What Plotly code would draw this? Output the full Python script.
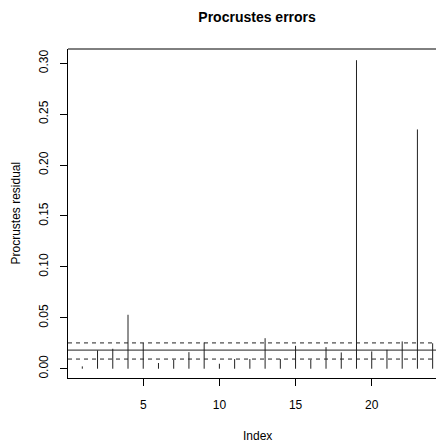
import numpy as np
import plotly.graph_objects as go

index = list(range(1, 25))
residuals = [0.0023, 0.018, 0.0196, 0.053, 0.0252, 0.0056, 0.0088, 0.0163,
             0.0258, 0.0049, 0.0095, 0.0095, 0.030, 0.0095, 0.0225, 0.0088,
             0.0212, 0.016, 0.303, 0.017, 0.0186, 0.0268, 0.235, 0.025]
x_ticks = [5, 10, 15, 20]
y_ticks = [0.00, 0.05, 0.10, 0.15, 0.20, 0.25, 0.30]

q25, q50, q75 = np.quantile(residuals, [0.25, 0.5, 0.75])

xs, ys = [], []
for i, v in zip(index, residuals):
    xs += [i, i, None]
    ys += [0, v, None]

fig = go.Figure()
fig.add_trace(go.Scatter(x=xs, y=ys, mode="lines",
                         line=dict(color="#222222", width=1),
                         hoverinfo="skip", showlegend=False))

font = "Arial"
shapes = []
for q, dash in [(q25, "4px,4px"), (q50, "solid"), (q75, "4px,4px")]:
    shapes.append(dict(type="line", xref="paper", yref="y", x0=0, x1=1, y0=q, y1=q,
                       line=dict(color="#222222", width=1, dash=dash)))
shapes.append(dict(type="line", xref="paper", yref="paper", x0=0, x1=1, y0=1, y1=1,
                   line=dict(color="black", width=1)))

fig.update_layout(
    width=444, height=443,
    autosize=False,
    margin=dict(l=60, r=0, t=41, b=73, autoexpand=False),
    paper_bgcolor="white", plot_bgcolor="white",
    font=dict(family=font, size=12, color="black"),
    title=dict(text="<b>Procrustes errors</b>", x=0.561, xref="container", xanchor="center",
               y=0.980, yref="container", yanchor="middle", font=dict(size=14, family=font)),
    shapes=shapes,
    annotations=[dict(text="Index", xref="paper", yref="paper",
                      x=(249 - 60) / 384, y=-58 / 329, showarrow=False,
                      xanchor="center", yanchor="middle", font=dict(size=12)),
                 dict(text="Procrustes residual", xref="paper", yref="paper",
                      x=(7 - 60) / 384, y=0.5, textangle=-90, showarrow=False,
                      xanchor="center", yanchor="middle",
                      font=dict(size=12, family="Liberation Sans"))],
    xaxis=dict(range=[0.061, 25.27], tickvals=x_ticks, ticks="outside", ticklen=7,
               tickcolor="black", showline=True, linecolor="black", linewidth=1,
               showgrid=False, zeroline=False, automargin=False,
               ticklabelstandoff=9),
    yaxis=dict(range=[-0.0091, 0.314], tickvals=y_ticks, tickformat=".2f",
               ticks="outside", ticklen=7, tickcolor="black", tickangle=-90,
               showline=True, linecolor="black", linewidth=1,
               showgrid=False, zeroline=False, automargin=False,
               ticklabelstandoff=7),
)

fig.write_html("out.html")
